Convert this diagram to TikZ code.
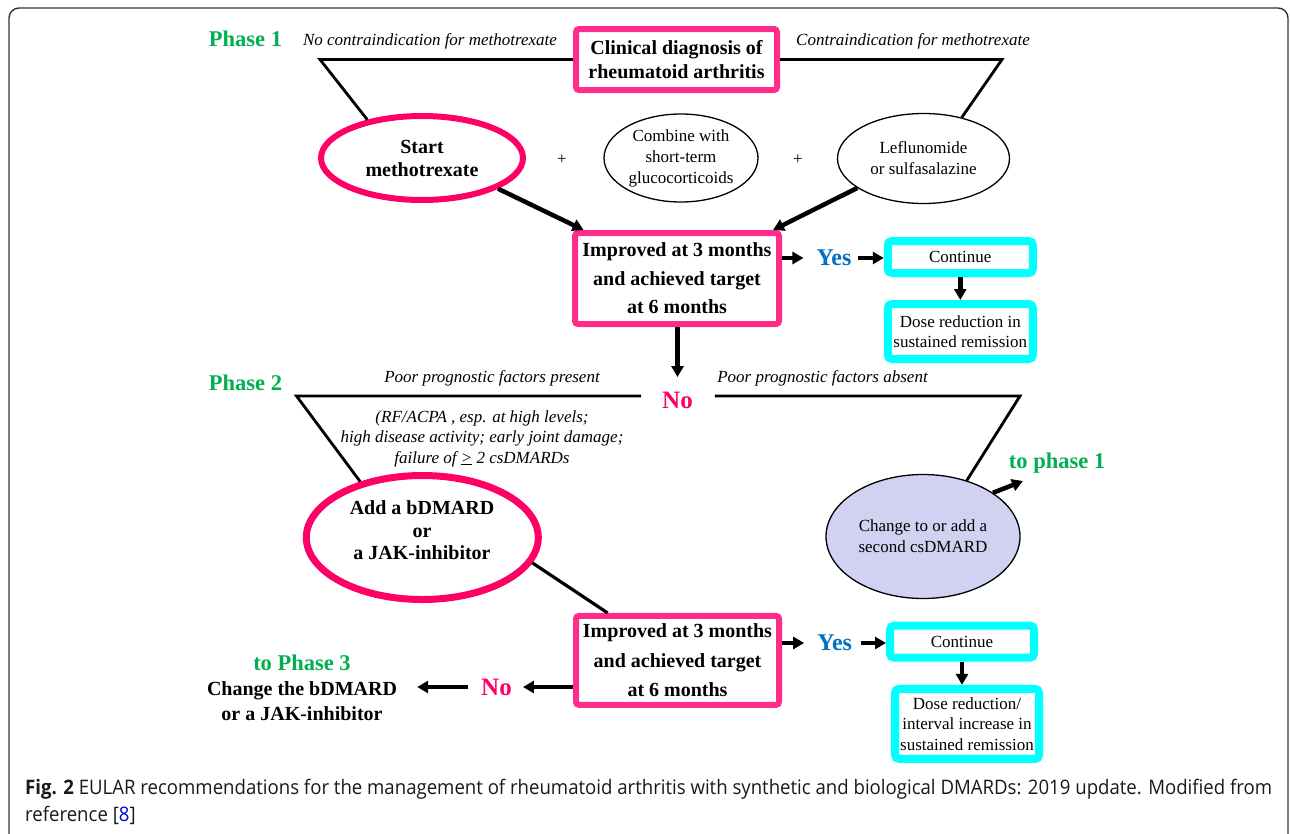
\documentclass[tikz,border=0pt]{standalone}
\usepackage{fontspec}
\setmainfont{Liberation Serif}
\newfontfamily\capfont[FakeStretch=0.93]{Open Sans}
\usetikzlibrary{shapes.geometric,arrows.meta}
\definecolor{pinkbox}{RGB}{255,44,138}
\definecolor{pinkell}{RGB}{255,0,102}
\definecolor{phgreen}{RGB}{0,176,80}
\definecolor{yesblue}{RGB}{0,112,192}
\definecolor{cyanb}{RGB}{0,255,255}
\definecolor{lav}{RGB}{209,209,242}
\definecolor{linkblue}{RGB}{0,0,230}
\begin{document}
\begin{tikzpicture}[x=1pt,y=-1pt,
  pbox/.style={draw=pinkbox, line width=6pt, rounded corners=3pt, inner sep=0pt, align=center, font=\fontsize{20}{28.5}\selectfont\bfseries},
  cbox/.style={draw=cyanb, line width=8pt, rounded corners=4pt, inner sep=0pt, align=center, font=\fontsize{17}{20.5}\selectfont},
  pell/.style={ellipse, draw=pinkell, line width=6pt, inner sep=0pt, align=center, font=\fontsize{20}{23}\selectfont\bfseries},
  tell/.style={ellipse, draw, line width=1.3pt, inner sep=0pt, align=center, font=\fontsize{17}{21}\selectfont},
  lab/.style={inner sep=0pt, align=center, font=\fontsize{17}{20.5}\selectfont\itshape},
  glab/.style={inner sep=0pt, text=phgreen, font=\fontsize{22.5}{25}\selectfont\bfseries},
  yeslab/.style={inner sep=0pt, text=yesblue, font=\fontsize{24}{25}\selectfont\bfseries},
  nolab/.style={inner sep=0pt, text=pinkell, font=\fontsize{25}{27}\selectfont\bfseries},
  pluslab/.style={inner sep=0pt, font=\fontsize{17}{20}\selectfont},
  branch/.style={line width=2.8pt, line join=miter},
  arr/.style={line width=4.5pt, -{Triangle[length=11pt,width=12pt]}}
]
\useasboundingbox (0,0) rectangle (1290,833);
\begin{scope}
\clip (0,0) rectangle (1290,833);
\draw[black!80, line width=1.4pt, rounded corners=10pt] (9,8) rectangle (1288,860);
\end{scope}

% Phase 1
\node[glab] (ph1) at (245.5,39) {Phase 1};
\node[lab] (nocontra) at (430,41.5) {No contraindication for methotrexate};
\node[lab] (contra) at (913,41) {Contraindication for methotrexate};
\node[pbox, minimum width=201pt, minimum height=61pt, font=\fontsize{20}{24}\selectfont\bfseries] (clin) at (676.5,59.5) {Clinical diagnosis of\\rheumatoid arthritis};
\node[pell, minimum width=202pt, minimum height=84pt] (start) at (422,158) {Start\\methotrexate};
\node[pluslab] (plus1) at (562,160) {+};
\node[tell, minimum width=154pt, minimum height=88pt] (comb) at (681,158) {Combine with\\short-term\\glucocorticoids};
\node[pluslab] (plus2) at (798,160) {+};
\node[tell, minimum width=172pt, minimum height=90pt] (lef) at (923.5,158.5) {Leflunomide\\or sulfasalazine};
\node[pbox, minimum width=204pt, minimum height=91pt] (imp1) at (677,278.5) {Improved at 3 months\\and achieved target\\at 6 months};
\node[yeslab] (yes1) at (834,258) {Yes};
\node[cbox, minimum width=145pt, minimum height=32pt] (cont1) at (960.3,257) {Continue};
\node[cbox, minimum width=145pt, minimum height=55pt] (dose1) at (960.3,331.5) {Dose reduction in\\sustained remission};
\node[nolab] (no1) at (677.5,400.6) {No};

\coordinate (c1) at (320,59.5);
\coordinate (c2) at (1002,59.5);
\draw[branch] (clin.west) -- (c1) -- (start.145);
\draw[branch] (clin.east) -- (c2) -- (lef.47);
\draw[arr] (start.-22) -- ([xshift=11.6pt]imp1.north west);
\draw[arr] (lef.204) -- ([xshift=-9pt]imp1.north east);
\draw[arr, shorten >=13pt] (yes1.west -| imp1.east) -- (yes1.west);
\draw[arr, shorten <=6pt] (yes1.east) -- (yes1.east -| cont1.west);
\draw[arr] (cont1.south) -- (dose1.north);
\draw[arr, shorten >=15pt] (no1.north |- imp1.south) -- (no1.north);

% Phase 2
\node[glab] (ph2) at (245.5,383) {Phase 2};
\node[lab] (present) at (492,378) {Poor prognostic factors present};
\node[lab] (absent) at (822.5,378) {Poor prognostic factors absent};
\node[lab] (factors) at (482,438.7) {(RF/ACPA , esp. at high levels;\\high disease activity; early joint damage;\\failure of \underline{>} 2 csDMARDs};
\node[pell, line width=7pt, minimum width=232pt, minimum height=124pt] (add) at (422.3,537.5) {};
\node[inner sep=0pt, align=center, font=\fontsize{20}{22.5}\selectfont\bfseries] (addtxt) at (422,530.5) {Add a bDMARD\\or\\a JAK-inhibitor};
\node[tell, fill=lav, minimum width=194pt, minimum height=124pt] (chg) at (923,536.5) {Change to or add a\\second csDMARD};
\node[glab] (tp1) at (1057,463) {to phase 1};
\coordinate (c3) at (296.5,396);
\coordinate (c4) at (1020,396);
\coordinate (tp1a) at (1023,481);
\draw[branch] ([shift={(-21pt,4.6pt)}]no1.west) -- (c3) -- (add.138);
\draw[branch] ([shift={(22pt,4.6pt)}]no1.east) -- (c4) -- (chg.52);
\draw[arr] (chg.32) -- (tp1a);

\node[pbox, minimum width=203pt, minimum height=89pt, font=\fontsize{20}{29.5}\selectfont\bfseries] (imp2) at (677.5,660.4) {Improved at 3 months\\and achieved target\\at 6 months};
\node[yeslab] (yes2) at (834.7,643) {Yes};
\node[cbox, minimum width=144pt, minimum height=32pt] (cont2) at (962,641.7) {Continue};
\node[cbox, minimum width=144pt, minimum height=70pt] (dose2) at (967,723.9) {Dose reduction/\\interval increase in\\sustained remission};
\node[nolab] (no2) at (496.5,687) {No};
\node[inner sep=0pt, align=center, font=\fontsize{20}{25}\selectfont\bfseries] (ph3) at (302,688) {\textcolor{phgreen}{\fontsize{22.5}{25}\selectfont to Phase 3}\\Change the bDMARD\\or a JAK-inhibitor};

\draw[line width=3.2pt] (add.-13) -- ([xshift=34.6pt]imp2.north west);
\draw[arr, shorten >=13pt] (yes2.west -| imp2.east) -- (yes2.west);
\draw[arr, shorten <=9pt] (yes2.east) -- (yes2.east -| cont2.west);
\draw[arr] (cont2.south) -- (cont2.south |- dose2.north);
\draw[arr, shorten >=11pt] (no2.east -| imp2.west) -- (no2.east);
\draw[arr, shorten <=13pt, shorten >=20pt] (no2.west) -- (no2.west -| ph3.east);

% caption
\node[anchor=west, align=left, inner sep=0pt, text=black!90, font=\capfont\fontsize{20}{27}\selectfont] (cap) at (25,801.5) {\textbf{Fig. 2} EULAR recommendations for the management of rheumatoid arthritis with synthetic and biological DMARDs: 2019 update. Modified from\\reference [\textcolor{linkblue}{8}]};
\end{tikzpicture}
\end{document}
